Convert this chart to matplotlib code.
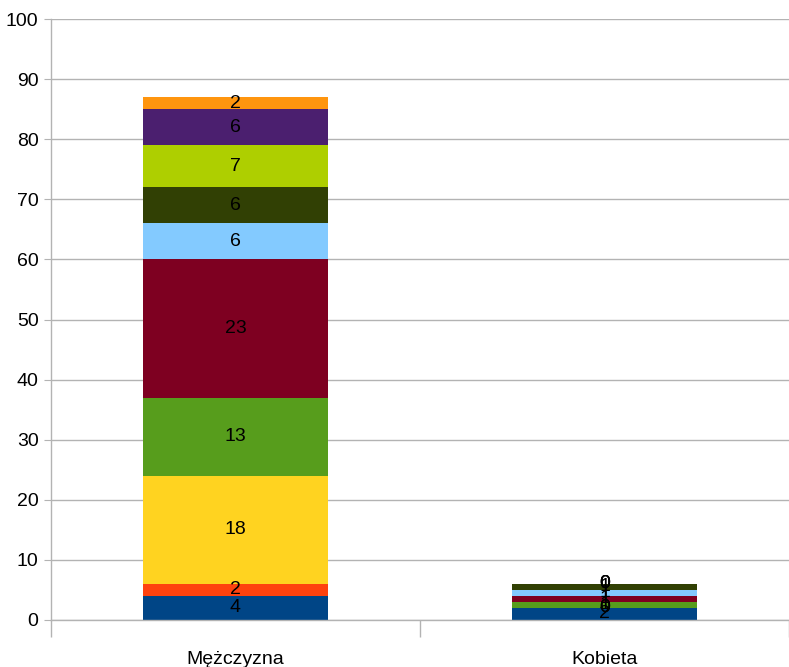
import matplotlib
matplotlib.use("Agg")
import matplotlib.pyplot as plt
import numpy as np

categories = ["Mężczyzna", "Kobieta"]
series_colors = ["#004586", "#ff420e", "#ffd320", "#579d1c", "#7e0021",
                 "#83caff", "#314004", "#aecf00", "#4b1f6f", "#ff950e"]
# one list per stacked series, bottom to top
s1 = [4, 2]
s2 = [2, 0]
s3 = [18, 0]
s4 = [13, 1]
s5 = [23, 1]
s6 = [6, 1]
s7 = [6, 1]
s8 = [7, 0]
s9 = [6, 0]
s10 = [2, 0]
series = [s1, s2, s3, s4, s5, s6, s7, s8, s9, s10]

plt.rcParams['font.family'] = ['Liberation Sans Narrow', 'Liberation Sans', 'DejaVu Sans']

fig = plt.figure(figsize=(7.89, 6.67), dpi=100)
ax = fig.add_axes([51 / 789, 47 / 667, 738 / 789, 601 / 667])

x = np.arange(len(categories))
bottom = np.zeros(len(categories))
for vals, col in zip(series, series_colors):
    bars = ax.bar(x, vals, 0.5, bottom=bottom, color=col, zorder=2)
    ax.bar_label(bars, labels=[str(v) for v in vals], label_type='center',
                 fontsize=14, color='black', zorder=3)
    bottom += np.array(vals)

ax.set_xlim(-0.5, 1.5)
ax.set_ylim(0, 100)
ax.set_yticks(range(0, 101, 10))
ax.grid(axis='y', color='#b3b3b3', linewidth=1, zorder=0)

ax.set_xticks(x)
ax.set_xticklabels(categories)
ax.set_xticks([-0.5, 0.5, 1.5], minor=True)
ax.tick_params(axis='x', which='major', length=0, labelsize=14, pad=22)
ax.tick_params(axis='x', which='minor', length=12, color='#b3b3b3', width=1)
ax.tick_params(axis='y', length=5, color='#b3b3b3', labelsize=14, pad=4)

for side in ['top', 'right']:
    ax.spines[side].set_visible(False)
for side in ['left', 'bottom']:
    ax.spines[side].set_color('#b3b3b3')
    ax.spines[side].set_linewidth(1)

fig.savefig("out.png", dpi=100)
